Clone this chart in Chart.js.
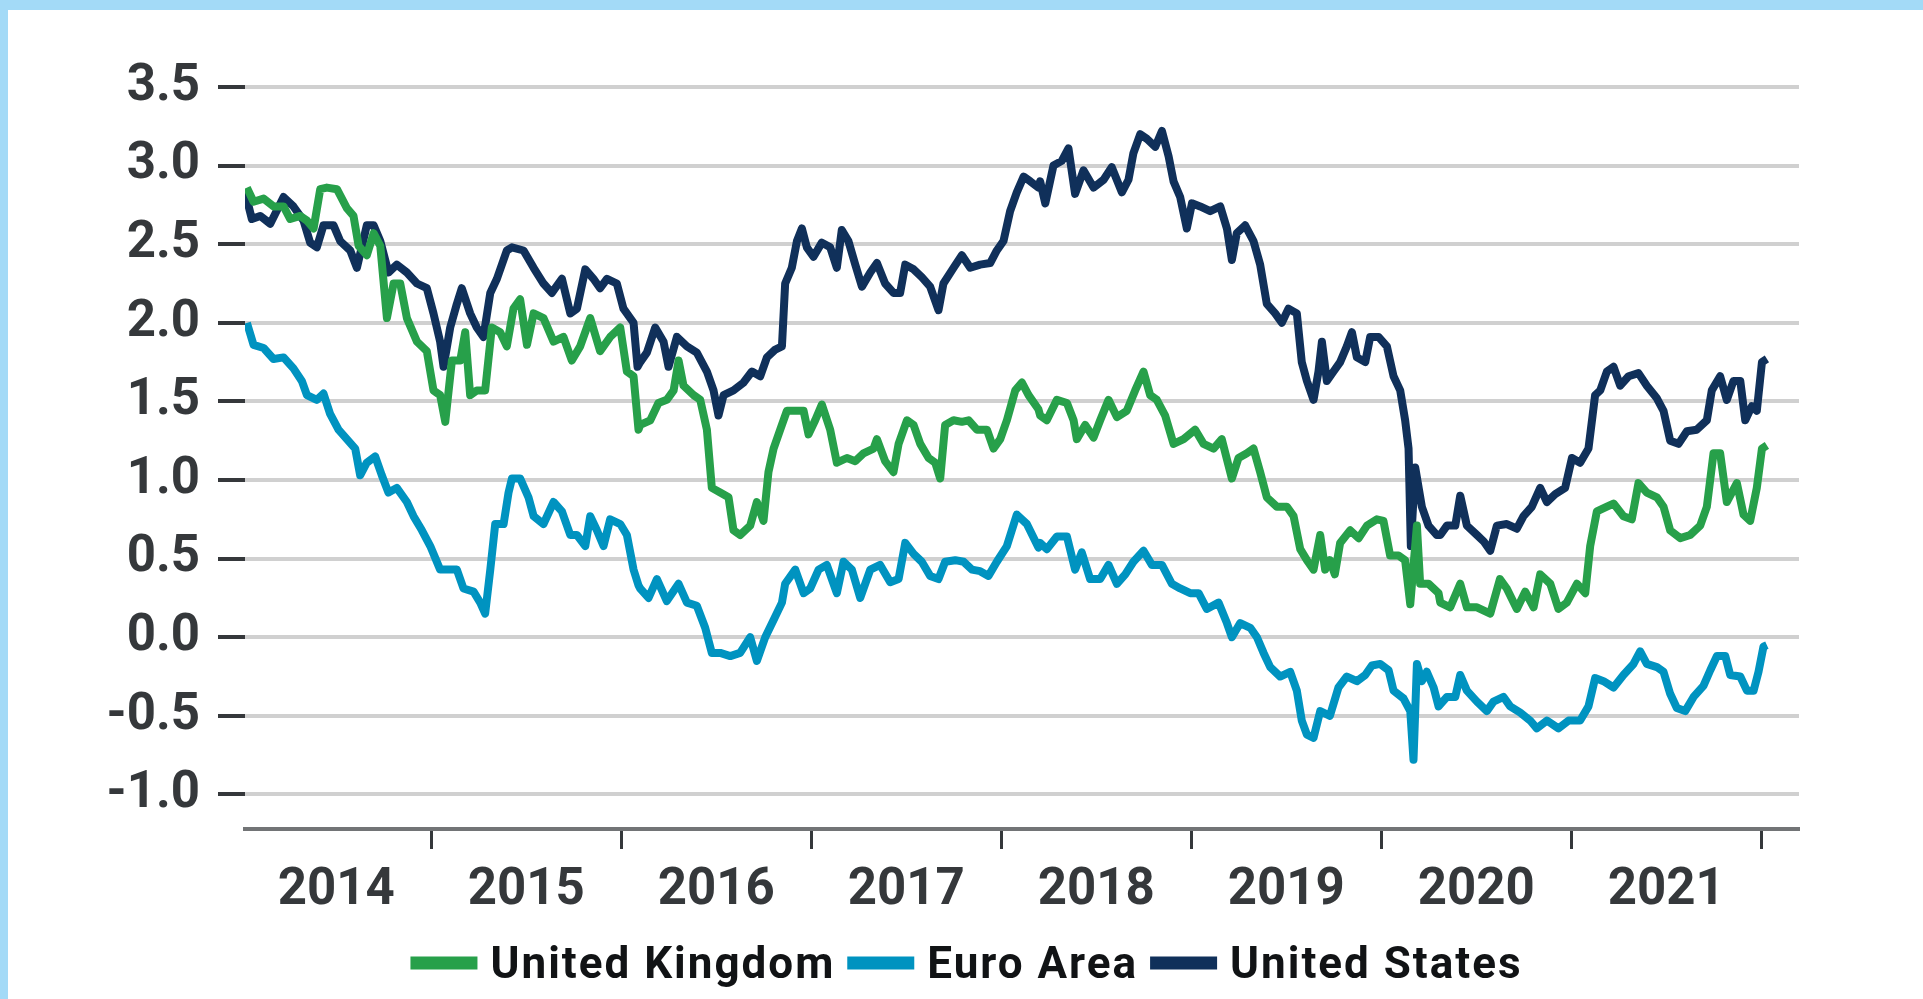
<!DOCTYPE html>
<html>
<head>
<meta charset="utf-8">
<title>Ten-year government bond yields</title>
<script src="https://cdn.jsdelivr.net/npm/chart.js@4.4.1/dist/chart.umd.min.js"></script>
<style>
  html, body { margin: 0; padding: 0; background: #ffffff; }
  #frame { position: relative; width: 1923px; height: 999px; overflow: hidden; background: #ffffff; }
  #frame::before { content: ''; position: absolute; left: 0; top: 0; width: 100%; height: 10px; background: #a3daf7; z-index: 2; }
  #frame::after { content: ''; position: absolute; left: 0; top: 0; width: 8px; height: 100%; background: #a3daf7; z-index: 2; }
  #chart { position: absolute; left: 0; top: 0; }
</style>
</head>
<body>
<div id="frame"><canvas id="chart" width="1923" height="999"></canvas></div>
<script>
// Series: [decimal year, yield in %]
const unitedKingdom = [
  [2014.030,2.86],[2014.065,2.77],[2014.118,2.79],[2014.170,2.74],[2014.223,2.74],[2014.258,2.66],[2014.311,2.68],[2014.346,2.65],
  [2014.381,2.60],[2014.416,2.85],[2014.451,2.86],[2014.504,2.85],[2014.556,2.73],[2014.591,2.68],[2014.618,2.49],[2014.661,2.43],
  [2014.697,2.57],[2014.732,2.49],[2014.767,2.03],[2014.802,2.25],[2014.837,2.25],[2014.872,2.03],[2014.925,1.88],[2014.977,1.82],
  [2015.012,1.57],[2015.047,1.54],[2015.074,1.37],[2015.109,1.76],[2015.153,1.76],[2015.179,1.94],[2015.205,1.54],[2015.240,1.57],
  [2015.284,1.57],[2015.319,1.97],[2015.363,1.94],[2015.398,1.85],[2015.433,2.09],[2015.468,2.15],[2015.504,1.86],[2015.539,2.06],
  [2015.591,2.03],[2015.644,1.88],[2015.696,1.91],[2015.740,1.76],[2015.784,1.85],[2015.837,2.03],[2015.889,1.82],[2015.942,1.91],
  [2015.995,1.97],[2016.030,1.69],[2016.065,1.66],[2016.091,1.32],
  [2016.100,1.35],[2016.153,1.38],[2016.196,1.49],[2016.240,1.51],[2016.276,1.57],[2016.302,1.76],[2016.328,1.60],[2016.381,1.54],
  [2016.416,1.51],[2016.451,1.32],[2016.477,0.95],[2016.521,0.92],[2016.565,0.89],[2016.591,0.68],[2016.626,0.65],[2016.679,0.71],
  [2016.714,0.86],[2016.749,0.74],[2016.775,1.05],[2016.802,1.20],[2016.837,1.32],[2016.872,1.44],[2016.916,1.44],[2016.960,1.44],
  [2016.986,1.29],[2017.021,1.38],[2017.056,1.48],[2017.100,1.32],[2017.135,1.11],[2017.188,1.14],[2017.232,1.12],[2017.275,1.17],
  [2017.328,1.20],[2017.346,1.26],[2017.389,1.12],[2017.433,1.05],[2017.460,1.23],[2017.504,1.38],[2017.539,1.35],[2017.574,1.23],
  [2017.618,1.14],[2017.653,1.11],[2017.679,1.01],[2017.705,1.35],[2017.749,1.38],[2017.793,1.37],[2017.828,1.38],[2017.872,1.32],
  [2017.925,1.32],[2017.960,1.20],[2017.995,1.26],[2018.030,1.38],[2018.074,1.57],[2018.109,1.62],[2018.144,1.54],[2018.196,1.45],
  [2018.205,1.41],[2018.240,1.38],[2018.293,1.51],[2018.346,1.49],[2018.381,1.38],[2018.398,1.26],[2018.442,1.35],[2018.486,1.27],
  [2018.521,1.38],[2018.565,1.51],[2018.609,1.40],[2018.661,1.44],[2018.705,1.57],[2018.749,1.69],[2018.784,1.54],[2018.819,1.51],
  [2018.863,1.41],[2018.907,1.23],[2018.960,1.26],[2019.021,1.32],[2019.065,1.23],[2019.118,1.20],[2019.161,1.26],[2019.214,1.01],
  [2019.249,1.14],[2019.293,1.17],[2019.328,1.20],[2019.363,1.05],[2019.398,0.89],[2019.451,0.83],[2019.504,0.83],[2019.539,0.77],
  [2019.574,0.56],[2019.609,0.49],[2019.644,0.43],[2019.679,0.65],[2019.705,0.43],[2019.730,0.49],[2019.756,0.40],[2019.784,0.60],
  [2019.837,0.68],[2019.881,0.63],[2019.925,0.71],[2019.977,0.75],[2020.012,0.74],[2020.047,0.52],[2020.091,0.52],[2020.126,0.49],
  [2020.153,0.21],[2020.188,0.71],[2020.205,0.34],[2020.249,0.34],[2020.302,0.28],
  [2020.311,0.22],[2020.363,0.19],[2020.416,0.34],[2020.451,0.19],[2020.504,0.19],[2020.574,0.15],[2020.625,0.37],[2020.661,0.31],
  [2020.714,0.18],[2020.758,0.29],[2020.802,0.19],[2020.837,0.40],[2020.890,0.34],[2020.933,0.18],[2020.977,0.22],[2021.030,0.34],
  [2021.074,0.28],[2021.100,0.58],[2021.135,0.80],[2021.188,0.83],[2021.223,0.85],[2021.275,0.77],[2021.319,0.75],[2021.354,0.98],
  [2021.398,0.92],[2021.451,0.89],[2021.486,0.83],[2021.521,0.68],[2021.574,0.63],[2021.626,0.65],[2021.679,0.71],[2021.714,0.83],
  [2021.749,1.17],[2021.784,1.17],[2021.819,0.86],[2021.872,0.98],[2021.907,0.78],[2021.942,0.74],[2021.977,0.95],[2022.004,1.20],
  [2022.030,1.22]
];

const euroArea = [
  [2014.030,2.00],[2014.065,1.86],[2014.118,1.84],[2014.170,1.77],[2014.223,1.78],[2014.275,1.71],[2014.319,1.63],[2014.346,1.54],
  [2014.398,1.51],[2014.433,1.55],[2014.468,1.42],[2014.512,1.32],[2014.556,1.26],[2014.600,1.20],[2014.626,1.03],[2014.661,1.11],
  [2014.705,1.15],[2014.740,1.03],[2014.775,0.92],[2014.819,0.95],[2014.872,0.86],[2014.907,0.77],[2014.951,0.68],[2014.995,0.58],
  [2015.047,0.43],[2015.100,0.43],[2015.135,0.43],[2015.170,0.31],[2015.223,0.29],[2015.258,0.22],[2015.284,0.15],[2015.311,0.43],
  [2015.337,0.72],[2015.381,0.72],[2015.407,0.92],[2015.425,1.01],[2015.468,1.01],[2015.512,0.89],[2015.539,0.77],[2015.591,0.72],
  [2015.644,0.86],[2015.688,0.80],[2015.732,0.65],[2015.767,0.65],[2015.811,0.58],[2015.837,0.77],[2015.872,0.68],[2015.907,0.58],
  [2015.942,0.75],[2015.995,0.72],[2016.030,0.65],[2016.065,0.43],[2016.091,0.33],
  [2016.100,0.31],[2016.144,0.25],[2016.188,0.37],[2016.240,0.23],[2016.302,0.34],[2016.346,0.22],[2016.398,0.20],[2016.442,0.06],
  [2016.477,-0.10],[2016.521,-0.10],[2016.574,-0.12],[2016.626,-0.10],[2016.679,0.00],[2016.714,-0.15],[2016.758,0.00],[2016.802,0.11],
  [2016.846,0.22],[2016.863,0.34],[2016.916,0.43],[2016.960,0.28],[2016.995,0.31],[2017.039,0.43],[2017.082,0.46],[2017.135,0.28],
  [2017.170,0.48],[2017.214,0.43],[2017.258,0.25],[2017.311,0.43],[2017.363,0.46],[2017.416,0.35],[2017.460,0.37],[2017.495,0.60],
  [2017.539,0.53],[2017.582,0.48],[2017.626,0.39],[2017.670,0.37],[2017.705,0.48],[2017.758,0.49],[2017.802,0.48],[2017.846,0.43],
  [2017.889,0.42],[2017.933,0.39],[2017.977,0.48],[2018.030,0.58],[2018.082,0.78],[2018.135,0.72],[2018.196,0.57],
  [2018.205,0.60],[2018.240,0.56],[2018.293,0.64],[2018.346,0.64],[2018.389,0.43],[2018.424,0.54],[2018.468,0.37],[2018.521,0.37],
  [2018.565,0.46],[2018.609,0.34],[2018.653,0.40],[2018.696,0.48],[2018.749,0.55],[2018.793,0.46],[2018.846,0.46],[2018.898,0.34],
  [2018.942,0.31],[2018.995,0.28],[2019.039,0.28],[2019.082,0.18],[2019.144,0.22],[2019.188,0.09],[2019.214,0.00],[2019.258,0.09],
  [2019.311,0.06],[2019.346,0.00],[2019.381,-0.10],[2019.416,-0.19],[2019.468,-0.25],[2019.521,-0.22],[2019.556,-0.34],[2019.582,-0.53],
  [2019.609,-0.62],[2019.644,-0.64],[2019.679,-0.47],[2019.730,-0.50],[2019.775,-0.32],[2019.819,-0.25],[2019.872,-0.28],[2019.916,-0.24],
  [2019.951,-0.18],[2019.995,-0.17],[2020.039,-0.21],[2020.065,-0.34],[2020.118,-0.39],[2020.153,-0.47],[2020.170,-0.78],[2020.188,-0.17],
  [2020.214,-0.28],[2020.240,-0.22],[2020.276,-0.32],[2020.302,-0.44],
  [2020.346,-0.38],[2020.390,-0.38],[2020.416,-0.24],[2020.451,-0.34],[2020.504,-0.41],[2020.556,-0.47],[2020.591,-0.41],[2020.644,-0.38],
  [2020.679,-0.44],[2020.732,-0.48],[2020.784,-0.53],[2020.819,-0.58],[2020.872,-0.53],[2020.933,-0.58],[2020.986,-0.53],[2021.047,-0.53],
  [2021.091,-0.44],[2021.126,-0.26],[2021.170,-0.28],[2021.223,-0.32],[2021.275,-0.24],[2021.328,-0.17],[2021.363,-0.09],[2021.398,-0.17],
  [2021.451,-0.19],[2021.486,-0.22],[2021.521,-0.36],[2021.556,-0.45],[2021.600,-0.47],[2021.644,-0.38],[2021.696,-0.31],[2021.732,-0.21],
  [2021.767,-0.12],[2021.811,-0.12],[2021.837,-0.24],[2021.890,-0.25],[2021.925,-0.34],[2021.960,-0.34],[2021.986,-0.22],[2022.012,-0.06],
  [2022.030,-0.05]
];

const unitedStates = [
  [2014.021,2.83],[2014.056,2.66],[2014.100,2.68],[2014.153,2.63],[2014.223,2.80],[2014.275,2.74],[2014.328,2.65],[2014.363,2.51],
  [2014.398,2.48],[2014.433,2.62],[2014.486,2.62],[2014.521,2.52],[2014.574,2.46],[2014.609,2.35],[2014.661,2.62],[2014.697,2.62],
  [2014.732,2.52],[2014.775,2.32],[2014.819,2.37],[2014.872,2.32],[2014.925,2.25],[2014.977,2.22],[2015.012,2.06],[2015.047,1.88],
  [2015.065,1.72],[2015.100,1.97],[2015.135,2.12],[2015.161,2.22],[2015.205,2.06],[2015.240,1.97],[2015.275,1.91],[2015.311,2.19],
  [2015.346,2.28],[2015.398,2.46],[2015.425,2.48],[2015.486,2.46],[2015.539,2.35],[2015.591,2.25],[2015.635,2.19],[2015.688,2.28],
  [2015.732,2.06],[2015.767,2.09],[2015.811,2.34],[2015.854,2.28],[2015.889,2.22],[2015.925,2.28],[2015.977,2.25],[2016.012,2.09],
  [2016.065,2.00],[2016.086,1.72],
  [2016.100,1.75],[2016.135,1.81],[2016.179,1.97],[2016.223,1.88],[2016.249,1.72],[2016.293,1.91],[2016.346,1.85],[2016.398,1.81],
  [2016.451,1.69],[2016.486,1.57],[2016.512,1.41],[2016.539,1.54],[2016.591,1.57],[2016.644,1.62],[2016.688,1.69],[2016.732,1.66],
  [2016.767,1.78],[2016.811,1.83],[2016.846,1.85],[2016.863,2.25],[2016.898,2.35],[2016.925,2.52],[2016.951,2.60],[2016.977,2.48],
  [2017.012,2.42],[2017.056,2.51],[2017.100,2.48],[2017.135,2.35],[2017.161,2.59],[2017.196,2.52],[2017.232,2.37],[2017.267,2.23],
  [2017.311,2.32],[2017.346,2.38],[2017.389,2.25],[2017.433,2.19],[2017.468,2.19],[2017.495,2.37],[2017.539,2.34],[2017.582,2.29],
  [2017.626,2.23],[2017.670,2.08],[2017.696,2.25],[2017.749,2.35],[2017.793,2.43],[2017.837,2.35],[2017.889,2.37],[2017.942,2.38],
  [2017.977,2.46],[2018.012,2.52],[2018.047,2.71],[2018.082,2.83],[2018.118,2.93],[2018.153,2.90],[2018.196,2.86],
  [2018.205,2.90],[2018.232,2.76],[2018.275,3.00],[2018.319,3.03],[2018.354,3.11],[2018.389,2.82],[2018.433,2.97],[2018.486,2.86],
  [2018.539,2.91],[2018.582,2.99],[2018.635,2.83],[2018.670,2.91],[2018.696,3.08],[2018.732,3.20],[2018.767,3.17],[2018.811,3.12],
  [2018.846,3.22],[2018.881,3.06],[2018.907,2.90],[2018.942,2.80],[2018.977,2.60],[2019.004,2.76],[2019.047,2.74],[2019.100,2.71],
  [2019.153,2.74],[2019.188,2.60],[2019.214,2.40],[2019.240,2.57],[2019.284,2.62],[2019.328,2.52],[2019.363,2.37],[2019.398,2.12],
  [2019.442,2.06],[2019.477,2.00],[2019.512,2.09],[2019.556,2.06],[2019.582,1.75],[2019.609,1.63],[2019.644,1.51],[2019.670,1.69],
  [2019.688,1.88],[2019.714,1.63],[2019.749,1.69],[2019.784,1.75],[2019.819,1.85],[2019.846,1.94],[2019.872,1.78],[2019.916,1.75],
  [2019.942,1.91],[2019.986,1.91],[2020.030,1.85],[2020.065,1.66],[2020.100,1.57],[2020.126,1.38],[2020.144,1.20],[2020.156,0.58],
  [2020.179,1.08],[2020.214,0.83],[2020.249,0.71],[2020.293,0.65],
  [2020.311,0.65],[2020.346,0.71],[2020.390,0.71],[2020.416,0.90],[2020.451,0.71],[2020.504,0.65],[2020.539,0.61],[2020.574,0.55],
  [2020.609,0.71],[2020.661,0.72],[2020.714,0.69],[2020.749,0.77],[2020.793,0.83],[2020.837,0.95],[2020.872,0.86],[2020.916,0.91],
  [2020.968,0.95],[2021.004,1.14],[2021.047,1.11],[2021.091,1.20],[2021.126,1.54],[2021.153,1.57],[2021.188,1.69],[2021.223,1.72],
  [2021.258,1.60],[2021.302,1.66],[2021.354,1.68],[2021.398,1.60],[2021.451,1.52],[2021.486,1.44],[2021.521,1.25],[2021.565,1.23],
  [2021.609,1.31],[2021.661,1.32],[2021.714,1.38],[2021.740,1.57],[2021.784,1.66],[2021.819,1.51],[2021.854,1.63],[2021.890,1.63],
  [2021.916,1.38],[2021.951,1.47],[2021.977,1.44],[2022.004,1.75],[2022.030,1.77]
];

const seriesNames = ['United Kingdom', 'Euro Area', 'United States'];
const seriesColors = ['#27a04a', '#0093c0', '#10305a'];
const yTickValues = [-1.0, -0.5, 0.0, 0.5, 1.0, 1.5, 2.0, 2.5, 3.0, 3.5];
const yearLabels = ['2014', '2015', '2016', '2017', '2018', '2019', '2020', '2021'];
const yearBoundaries = [2015, 2016, 2017, 2018, 2019, 2020, 2021, 2022];

const axisFont = { family: 'Roboto', weight: 'bold', size: 51 };
const axisText = '#35383b';

const toPoints = rows => rows.map(([x, y]) => ({ x, y }));
const seriesData = [unitedKingdom, euroArea, unitedStates];

// Legend drawn as coloured bars followed by the series names, centred under the axis
const seriesKey = {
  id: 'seriesKey',
  afterDraw(chart) {
    const ctx = chart.ctx;
    ctx.save();
    ctx.font = 'bold 44px Roboto';
    if ('letterSpacing' in ctx) ctx.letterSpacing = '2px';
    ctx.textBaseline = 'alphabetic';
    ctx.textAlign = 'left';
    const swatchW = 67, swatchH = 13, gapIn = 13, gapOut = 12;
    const items = chart.data.datasets.map(ds => ({
      label: ds.label, color: ds.borderColor, w: ctx.measureText(ds.label).width
    }));
    const total = items.reduce((s, it) => s + swatchW + gapIn + it.w, 0) + gapOut * (items.length - 1);
    let x = chart.width / 2 + 5 - total / 2;
    const midY = 963;
    items.forEach(it => {
      ctx.fillStyle = it.color;
      ctx.fillRect(x, midY - swatchH / 2, swatchW, swatchH);
      x += swatchW + gapIn;
      ctx.fillStyle = '#111315';
      ctx.fillText(it.label, x, 978);
      x += it.w + gapOut;
    });
    ctx.restore();
  }
};

new Chart(document.getElementById('chart'), {
  type: 'line',
  data: {
    datasets: seriesNames.map((name, i) => ({
      label: name,
      data: toPoints(seriesData[i]),
      borderColor: seriesColors[i],
      backgroundColor: seriesColors[i],
      borderWidth: 8,
      pointRadius: 0,
      tension: 0,
      borderJoinStyle: 'round',
      fill: false
    }))
  },
  options: {
    responsive: false,
    animation: false,
    events: [],
    layout: { padding: { top: 87, right: 124, bottom: 0, left: 0 } },
    plugins: {
      legend: { display: false },
      tooltip: { enabled: false },
      title: { display: false }
    },
    scales: {
      x: {
        type: 'linear',
        min: 2014.02,
        max: 2022.199,
        afterBuildTicks: scale => {
          const ticks = [];
          yearLabels.forEach((lbl, i) => {
            ticks.push({ value: Number(lbl) + 0.5 });
            ticks.push({ value: yearBoundaries[i] });
          });
          scale.ticks = ticks;
        },
        afterFit: scale => { scale.height = 170; },
        ticks: {
          autoSkip: false,
          maxRotation: 0,
          minRotation: 0,
          padding: 12,
          color: axisText,
          font: axisFont,
          callback: value => {
            const i = yearLabels.indexOf(String(Math.floor(value)));
            return Number.isInteger(value) ? '' : (i >= 0 ? yearLabels[i] : '');
          }
        },
        grid: {
          drawOnChartArea: false,
          drawTicks: true,
          tickLength: 20,
          tickWidth: 3,
          tickColor: ctx => (ctx.tick && Number.isInteger(ctx.tick.value)) ? '#35383b' : 'rgba(0,0,0,0)'
        },
        border: { display: true, color: '#727476', width: 4 }
      },
      y: {
        type: 'linear',
        min: -1.22,
        max: 3.5,
        afterBuildTicks: scale => { scale.ticks = yTickValues.map(v => ({ value: v })); },
        afterFit: scale => { scale.width = 245; },
        ticks: {
          padding: 18,
          color: axisText,
          font: axisFont,
          callback: value => value.toFixed(1)
        },
        grid: {
          color: '#d0d0d0',
          lineWidth: 4,
          drawTicks: true,
          tickLength: 27,
          tickWidth: 4,
          tickColor: '#35383b'
        },
        border: { display: false }
      }
    }
  },
  plugins: [seriesKey]
});
</script>
</body>
</html>
